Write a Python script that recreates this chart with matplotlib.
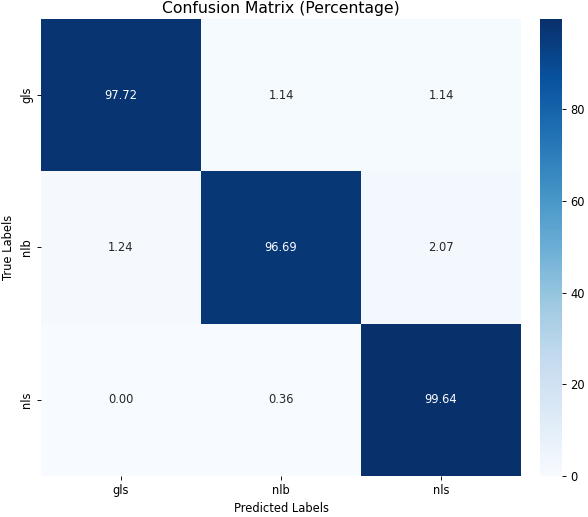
import numpy as np
import matplotlib
matplotlib.use("Agg")
import matplotlib.pyplot as plt
import seaborn as sns

labels = ["gls", "nlb", "nls"]
cm_pct = np.array([
    [97.72, 1.14, 1.14],
    [1.24, 96.69, 2.07],
    [0.00, 0.36, 99.64],
])

dpi = 83
fig = plt.figure(figsize=(588 / dpi, 517 / dpi), dpi=dpi)
W, H = 588.0, 517.0
ax = fig.add_axes([41 / W, (H - 476) / H, 480 / W, 457 / H])
cax = fig.add_axes([540 / W, (H - 476) / H, 22 / W, 457 / H])

sns.heatmap(cm_pct, annot=True, fmt=".2f", cmap="Blues",
            xticklabels=labels, yticklabels=labels,
            ax=ax, cbar_ax=cax)

ax.set_yticklabels(labels, rotation=90, va="center")
ax.set_xlabel("Predicted Labels")
ax.set_ylabel("True Labels")
ax.set_title("Confusion Matrix (Percentage)", fontsize=13.5, pad=5)

fig.savefig("out.png", dpi=dpi)
